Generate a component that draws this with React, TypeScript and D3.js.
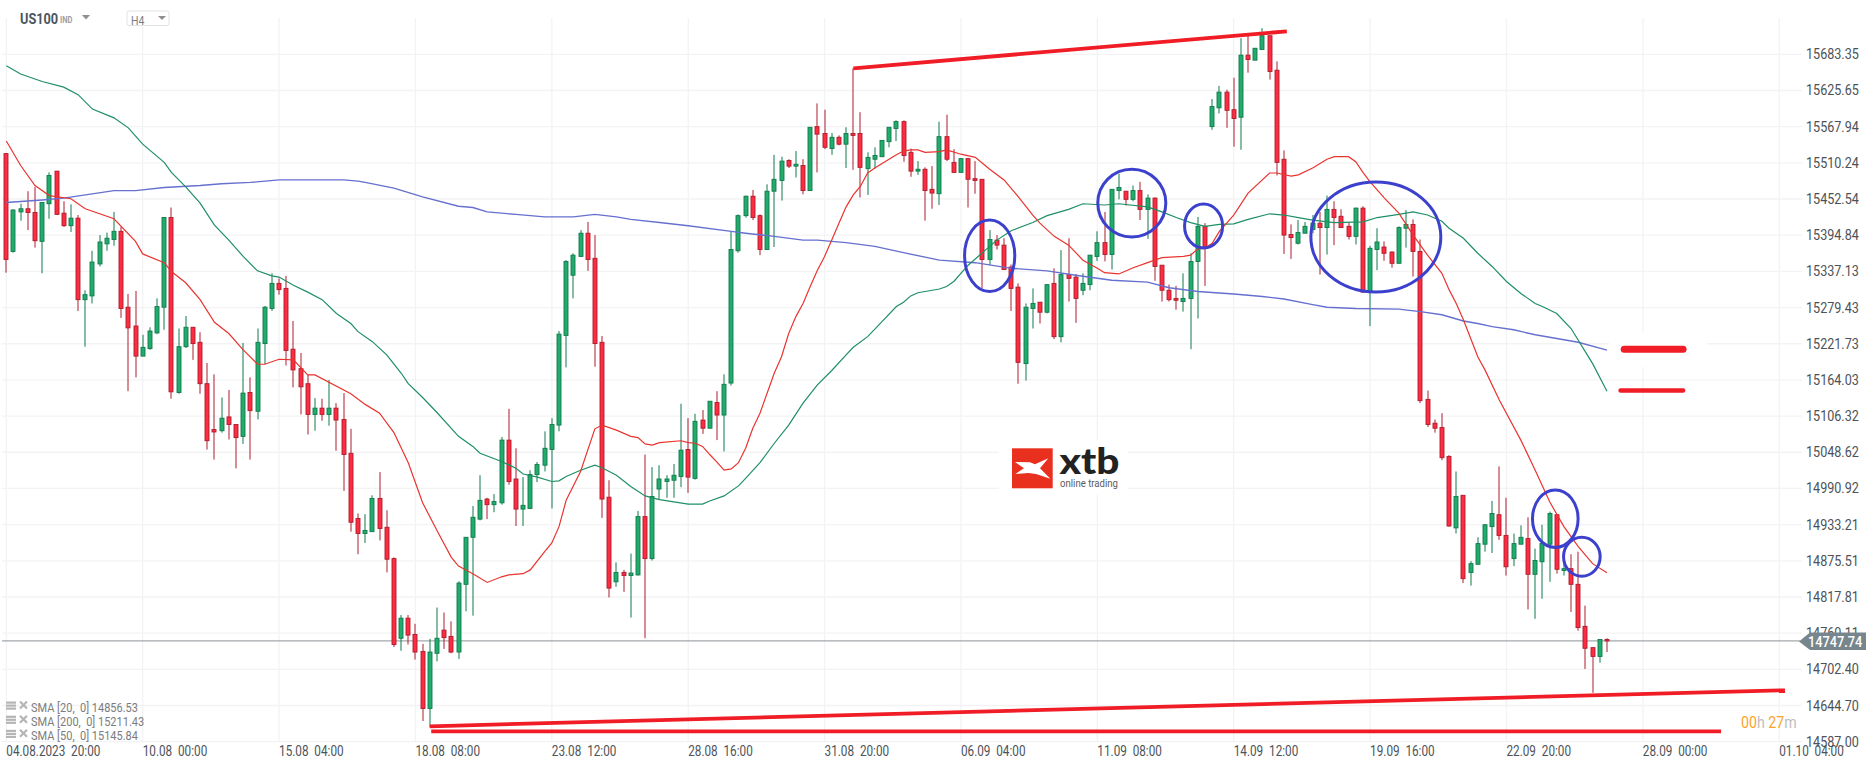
import React from "react";
import * as d3 from "d3";

const FONT = "Roboto, sans-serif";

// candles, one entry per H4 bar
const open = [15525,15369,15432,15437,15431,15385,15445,15497,15430,15410,15422,15292,15298,15349,15381,15388,15401,15280,15250,15202,
15214,15239,15280,15423,15144,15217,15248,15224,15158,15085,15083,15105,15093,15074,15144,15114,15222,15278,15318,15310,
15213,15182,15158,15109,15119,15109,15119,15101,15047,14943,14919,14922,14975,14929,14879,14752,14784,14758,14731,14640,
14728,14765,14755,14730,14838,14913,14942,14974,14965,14968,15068,15006,14958,14959,15013,15028,15053,15092,15235,15331,
15361,15398,15358,15224,14977,14842,14857,14852,14853,14946,14879,14990,15002,15004,15010,15053,15007,15100,15087,15128,
15108,15159,15370,15426,15457,15426,15372,15465,15482,15514,15505,15506,15466,15568,15557,15533,15551,15540,15557,15557,
15501,15516,15520,15544,15565,15576,15527,15497,15500,15468,15461,15552,15511,15495,15517,15485,15484,15356,15387,15379,
15344,15312,15190,15278,15288,15272,15318,15233,15332,15328,15307,15316,15361,15383,15364,15466,15465,15452,15466,15436,
15454,15347,15307,15294,15289,15294,15353,15409,15568,15598,15623,15595,15583,15682,15674,15691,15713,15658,15516,15396,
15382,15398,15404,15414,15407,15436,15425,15409,15393,15438,15305,15372,15376,15368,15350,15406,15412,15369,15133,15095,
15088,15042,14928,14980,14857,14870,14902,14930,14949,14916,14879,14902,14911,14854,14874,14902,14949,14860,14863,14838,
14771,14737,14723,14750];
const high = [15525,15436,15445,15465,15472,15447,15495,15497,15449,15444,15427,15307,15370,15395,15399,15432,15408,15301,15306,15236,
15248,15294,15424,15439,15246,15266,15248,15240,15191,15173,15136,15148,15093,15223,15168,15246,15282,15334,15326,15330,
15258,15207,15173,15135,15134,15164,15127,15143,15086,14951,14950,14980,15017,14956,14881,14789,14789,14775,14743,14751,
14801,14793,14779,14843,14913,14963,15012,14976,14982,15073,15118,15055,15009,15020,15033,15082,15103,15242,15355,15366,
15403,15416,15395,15234,15004,14873,14861,14887,14955,15045,15025,15028,15012,15030,15126,15103,15110,15116,15130,15146,
15173,15400,15428,15458,15467,15428,15476,15523,15520,15516,15529,15516,15567,15605,15595,15558,15554,15567,15661,15591,
15527,15535,15546,15567,15578,15578,15533,15513,15503,15505,15576,15587,15532,15517,15517,15513,15484,15403,15395,15390,
15348,15318,15286,15310,15288,15316,15342,15371,15390,15333,15334,15363,15401,15432,15468,15493,15465,15474,15480,15460,
15455,15347,15316,15314,15334,15366,15424,15414,15612,15633,15627,15646,15709,15714,15693,15725,15713,15672,15530,15412,
15419,15416,15427,15432,15458,15449,15436,15415,15439,15441,15378,15406,15385,15369,15409,15435,15420,15388,15147,15101,
15111,15044,15018,14980,14875,14913,14934,14971,15026,14976,14919,14932,14945,14895,14933,14954,14949,14879,14886,14890,
14804,14737,14750,14752];
const low = [15335,15367,15418,15403,15375,15334,15421,15428,15408,15400,15274,15217,15286,15345,15370,15378,15263,15146,15168,15202,
15212,15237,15244,15134,15142,15215,15196,15142,15053,15037,15080,15069,15023,15062,15037,15101,15189,15274,15300,15187,
15152,15109,15077,15083,15099,15091,15051,14987,14922,14886,14904,14922,14908,14857,14738,14732,14742,14718,14620,14610,
14715,14735,14728,14719,14795,14788,14940,14942,14953,14965,14997,14931,14931,14959,15001,15018,14959,15082,15184,15294,
15361,15338,15185,14944,14817,14834,14826,14785,14852,14752,14876,14973,14976,14976,14993,14984,15005,15078,15087,15068,
15050,15155,15367,15423,15419,15363,15372,15376,15450,15502,15487,15460,15466,15495,15532,15523,15538,15502,15499,15455,
15459,15501,15520,15535,15545,15512,15488,15491,15418,15437,15443,15513,15495,15495,15439,15461,15310,15347,15372,15340,
15274,15158,15163,15246,15254,15270,15229,15224,15289,15255,15299,15307,15354,15353,15340,15452,15442,15449,15419,15389,
15322,15289,15289,15276,15273,15213,15262,15314,15563,15589,15566,15536,15531,15654,15674,15691,15643,15490,15365,15357,
15380,15398,15398,15332,15364,15379,15407,15388,15380,15304,15250,15339,15354,15343,15350,15375,15329,15127,15089,15080,
15036,14930,14919,14840,14836,14870,14890,14888,14909,14852,14867,14902,14798,14783,14815,14842,14855,14852,14794,14764,
14703,14665,14713,14730];
const close = [15356,15435,15437,15431,15386,15447,15490,15428,15410,15422,15292,15300,15352,15384,15390,15401,15278,15247,15202,15216,
15242,15281,15423,15145,15217,15248,15222,15158,15067,15081,15103,15093,15072,15143,15115,15224,15280,15318,15308,15211,
15180,15153,15109,15119,15109,15119,15100,15045,14937,14919,14924,14975,14927,14878,14742,14784,14757,14730,14640,14730,
14752,14753,14730,14840,14913,14945,14972,14965,14970,15068,15002,14958,14964,15013,15029,15055,15093,15237,15353,15363,
15398,15356,15222,14974,14832,14857,14852,14856,14946,14879,14978,15006,15006,15012,15052,15009,15098,15087,15130,15108,
15157,15372,15426,15457,15423,15372,15465,15484,15513,15505,15508,15466,15567,15556,15535,15551,15540,15557,15554,15503,
15519,15522,15546,15567,15576,15522,15497,15500,15466,15462,15552,15516,15495,15517,15484,15482,15356,15388,15379,15340,
15310,15192,15280,15286,15272,15316,15233,15332,15326,15294,15318,15363,15383,15364,15468,15471,15452,15466,15436,15454,
15345,15307,15292,15291,15294,15353,15409,15376,15600,15623,15594,15581,15682,15675,15693,15713,15656,15511,15395,15391,
15399,15409,15414,15407,15436,15423,15407,15393,15438,15304,15374,15384,15366,15350,15407,15412,15369,15131,15093,15087,
15040,14931,14978,14847,14871,14903,14933,14951,14916,14866,14903,14913,14854,14876,14903,14951,14862,14863,14838,14769,
14736,14723,14750,14747.74];

// moving averages at these bars
const sma20Bars = [0,2,4,6,9,11,15,18,19,22,23,25,27,29,31,33,35,36,38,40,42,43,48,50,52,54,56,58,60,62,63,65,67,69,70,72,73,75,76,77,78,80,82,83,85,87,88,89,90,91,94,95,96,97,98,99,100,101,102,103,104,105,107,108,109,110,111,112,113,114,115,116,117,118,119,120,121,124,125,126,127,128,130,131,133,135,137,139,141,143,144,146,148,150,152,153,155,157,159,161,164,165,166,167,168,169,171,173,176,177,179,180,182,184,185,187,188,189,190,192,194,196,198,200,201,202,203,205,206,208,211,213,215,217,219,221,223];
const sma20Values = [15545,15506,15474,15458,15453,15437,15421,15385,15365,15351,15337,15319,15292,15256,15238,15212,15189,15189,15197,15196,15172,15172,15142,15125,15111,15080,15032,14968,14924,14881,14867,14855,14841,14850,14853,14855,14861,14890,14904,14930,14972,15018,15086,15092,15084,15074,15072,15062,15060,15064,15067,15064,15063,15058,15045,15033,15020,15022,15032,15055,15087,15111,15175,15201,15238,15265,15286,15313,15339,15361,15387,15414,15440,15459,15473,15494,15502,15523,15529,15531,15531,15527,15528,15531,15524,15519,15500,15483,15456,15427,15414,15393,15379,15355,15342,15335,15333,15343,15351,15359,15361,15363,15373,15374,15382,15401,15427,15462,15494,15494,15489,15491,15502,15516,15520,15520,15512,15495,15480,15454,15430,15395,15363,15334,15308,15286,15260,15201,15180,15132,15068,15020,14970,14930,14898,14871,14856.53];

const sma50Bars = [0,2,5,8,10,12,15,17,19,22,23,25,27,29,31,33,35,37,38,40,42,44,46,48,49,51,53,55,56,58,60,63,65,66,69,71,72,74,76,77,78,80,82,83,85,87,89,91,95,97,98,100,102,103,105,107,109,111,113,115,117,118,120,122,124,125,126,127,130,131,132,134,136,138,140,143,145,148,150,153,155,159,161,163,165,167,169,171,173,176,178,180,182,185,189,191,194,196,198,200,201,203,205,207,209,211,213,214,216,218,221,223];
const sma50Values = [15665,15652,15640,15631,15619,15596,15582,15566,15540,15511,15495,15472,15446,15411,15387,15361,15338,15330,15328,15315,15304,15292,15270,15254,15241,15225,15204,15175,15158,15136,15112,15074,15058,15047,15034,15023,15014,15009,15002,15003,15010,15020,15028,15024,15012,14994,14979,14973,14966,14966,14971,14979,14995,15007,15032,15063,15092,15127,15156,15179,15204,15216,15233,15257,15281,15288,15298,15303,15309,15313,15321,15347,15367,15387,15402,15415,15426,15436,15445,15443,15445,15440,15432,15423,15415,15409,15412,15413,15420,15429,15427,15423,15419,15415,15416,15423,15428,15432,15427,15417,15406,15390,15366,15345,15321,15302,15286,15281,15270,15246,15190,15145.84];

const sma200Bars = [0,5,8,15,18,22,27,30,34,38,47,49,50,54,58,63,65,67,71,75,79,82,85,87,91,95,101,103,107,111,113,117,121,125,130,135,140,145,149,154,159,162,166,171,175,178,182,184,188,194,197,200,203,205,207,210,213,219,223];
const sma200Values = [15447,15451,15454,15466,15466,15471,15474,15477,15479,15483,15483,15481,15479,15470,15456,15441,15439,15432,15428,15424,15424,15428,15424,15420,15415,15410,15401,15398,15393,15387,15387,15383,15377,15367,15355,15351,15342,15338,15331,15323,15320,15311,15305,15301,15297,15293,15284,15280,15278,15277,15273,15268,15258,15254,15249,15244,15236,15224,15211.43];

// axis labels
const priceTicks = ["15683.35","15625.65","15567.94","15510.24","15452.54","15394.84","15337.13","15279.43","15221.73","15164.03","15106.32","15048.62","14990.92","14933.21","14875.51","14817.81","14760.11","14702.40","14644.70","14587.00"];
const dateTicks = ["04.08.2023  20:00","10.08  00:00","15.08  04:00","18.08  08:00","23.08  12:00","28.08  16:00","31.08  20:00","06.09  04:00","11.09  08:00","14.09  12:00","19.09  16:00","22.09  20:00","28.09  00:00","01.10  04:00"];
const tickEveryBars = 19;
const lastPrice = 14747.74;
const legendRows = ["SMA [20,  0] 14856.53","SMA [200,  0] 15211.43","SMA [50,  0] 15145.84"];

// hand-drawn annotations: [bar, price, bar, price]
const thinRedLines = [
  [118, 15661, 178.4, 15720],
  [59, 14611.6, 247.8, 14669],
  [59.2, 14603.5, 238.9, 14603.5],
];
const thickRedLines = [
  [225.4, 15213, 233.6, 15213, 7],
  [224.9, 15147, 233.6, 15147, 4.5],
];
// [centre bar, centre price, radius in bars, radius in price]
const blueCircles = [
  [137, 15362, 3.5, 57],
  [156.8, 15446, 4.74, 54],
  [166.8, 15409.5, 2.65, 35],
  [190.8, 15392, 9.05, 87.7],
  [215.8, 14942.7, 3.18, 45.8],
  [219.5, 14882, 2.55, 31],
];

const x = d3.scaleLinear().domain([0, tickEveryBars]).range([6.3, 142.68]);
const y = d3.scaleLinear().domain([14587, 15683.35]).range([741.7, 54.3]);

const GREEN = "#22ab6c", GREEN_D = "#0f7a4b", RED = "#fe2c40", RED_D = "#ad1c2d";
const GRID = "#f3f3f5";
const STRETCH = 0.84;

function Txt({ px, py, children, sx = STRETCH, ...rest }: any) {
  return (
    <text transform={`translate(${px},${py}) scale(${sx},1)`} fontFamily={FONT} xmlSpace="preserve" style={{ whiteSpace: "pre" }} {...rest}>
      {children}
    </text>
  );
}

function smaPath(bars: number[], values: number[]) {
  const line = d3.line<number>().x((b) => x(b)).y((_, k) => y(values[k]));
  return line(bars) as string;
}

export default function App() {
  const gridRight = 1802;
  const tickXs = dateTicks.map((_, k) => x(k * tickEveryBars));
  const priceYs = priceTicks.map((t) => y(+t));
  const lastY = y(lastPrice);
  const legendYs = [707.5, 721.7, 735.8];
  return (
    <svg width={1866} height={767} viewBox="0 0 1866 767" style={{ position: "fixed", left: 0, top: 0, display: "block", background: "#fff" }}>
      <rect width={1866} height={767} fill="#fff" />
      {/* grid */}
      {priceYs.map((py, k) => (
        <line key={k} x1={2} x2={gridRight} y1={py} y2={py} stroke={GRID} strokeWidth={1.3} />
      ))}
      {tickXs.map((tx, k) => (
        <line key={k} x1={tx} x2={tx} y1={18} y2={742} stroke={GRID} strokeWidth={1.3} />
      ))}
      {/* white patches behind the logo and the level marks */}
      <rect x={999} y={440} width={129} height={55} fill="#fff" />
      <rect x={1609} y={333} width={98} height={34} fill="#fff" />
      {/* logo */}
      <g>
        <rect x={1012} y={448.3} width={40.7} height={40} fill="#e9301f" />
        <g transform="translate(980,400) scale(0.3333)">
          <path d="M105,186 L150,187 L165,193 L205,175 L180,205 L211,236 L168,222 L145,219 L106,222 L132,205 Z" fill="#fff" />
        </g>
        <text x={1059.5} y={474} fontFamily="Lato, sans-serif" fontWeight={900} fontSize={36} fill="#222" textLength={60} lengthAdjust="spacingAndGlyphs">xtb</text>
        <text x={1060} y={486.5} fontFamily={FONT} fontSize={10.5} fill="#5d5d5d" textLength={58} lengthAdjust="spacingAndGlyphs">online trading</text>
      </g>
      {/* last price line */}
      <line x1={2} x2={1800} y1={lastY} y2={lastY} stroke="#8b9296" strokeWidth={1} />
      {/* candles */}
      {open.map((o, i) => {
        const c = close[i];
        const up = c >= o;
        const cx = Math.round(x(i));
        const top = y(Math.max(o, c));
        const bot = y(Math.min(o, c));
        return (
          <g key={i}>
            <line x1={cx} x2={cx} y1={y(high[i])} y2={y(low[i])} stroke={up ? GREEN_D : RED_D} strokeWidth={1} />
            <rect x={cx - 2} y={top} width={4} height={Math.max(bot - top, 1)} fill={up ? GREEN : RED} stroke={up ? GREEN_D : RED_D} strokeWidth={0.9} />
          </g>
        );
      })}
      {/* moving averages */}
      <path d={smaPath(sma200Bars, sma200Values)} fill="none" stroke="#6670cf" strokeWidth={1.4} />
      <path d={smaPath(sma50Bars, sma50Values)} fill="none" stroke="#1f8f65" strokeWidth={1.2} />
      <path d={smaPath(sma20Bars, sma20Values)} fill="none" stroke="#e9342f" strokeWidth={1.2} />
      {/* annotations */}
      {thinRedLines.map((l, k) => (
        <line key={k} x1={x(l[0])} y1={y(l[1])} x2={x(l[2])} y2={y(l[3])} stroke="#f01c26" strokeWidth={3.8} />
      ))}
      {thickRedLines.map((l, k) => (
        <line key={k} x1={x(l[0])} y1={y(l[1])} x2={x(l[2])} y2={y(l[3])} stroke="#f01c26" strokeWidth={l[4]} strokeLinecap="round" />
      ))}
      {blueCircles.map((c, k) => (
        <ellipse key={k} cx={x(c[0])} cy={y(c[1])} rx={x(c[2]) - x(0)} ry={y(15000 - c[3]) - y(15000)} fill="none" stroke="#3c41cd" strokeWidth={3} />
      ))}
      {/* price axis */}
      {priceTicks.map((t, k) => (
        <Txt key={k} px={1806} py={priceYs[k] + 5} sx={0.9} fontSize={14} fill="#4d5258">{t}</Txt>
      ))}
      <path d={`M1799,${lastY + 0.5} L1810,632.5 L1866,632.5 L1866,650 L1810,650 Z`} fill="#77868c" />
      <Txt px={1808} py={646.5} sx={0.88} fontSize={14.5} fontWeight={500} fill="#fff">14747.74</Txt>
      {/* time axis */}
      {dateTicks.map((t, k) => (
        <Txt key={k} px={tickXs[k]} py={755.5} fontSize={14} fill="#4d5258">{t}</Txt>
      ))}
      {/* countdown */}
      <Txt px={1741} py={728} sx={0.86} fontSize={16.5} fill="#f9a32e">00<tspan fill="#bdbdbd">h</tspan> 27<tspan fill="#bdbdbd">m</tspan></Txt>
      {/* legend */}
      {legendRows.map((t, k) => (
        <g key={k}>
          {[0, 3, 6].map((d) => (
            <rect key={d} x={6} y={legendYs[k] - 6 + d} width={10} height={2.2} fill="#b5b5b5" />
          ))}
          <path d={`M20,${legendYs[k] - 6} L27,${legendYs[k] + 1} M27,${legendYs[k] - 6} L20,${legendYs[k] + 1}`} stroke="#b5b5b5" strokeWidth={2.2} />
          <Txt px={31} py={legendYs[k] + 4} sx={0.88} fontSize={12.5} fill="#7c7c7c">{t}</Txt>
        </g>
      ))}
      {/* header */}
      <Txt px={20} py={24} sx={0.88} fontSize={14.5} fontWeight={700} fill="#4a5560">US100</Txt>
      <Txt px={60} py={23} fontSize={9} fontWeight={700} fill="#9a9fa5">IND</Txt>
      <path d="M82,15 L90,15 L86,19.5 Z" fill="#8f8f8f" />
      <rect x={127} y={11} width={42} height={14.5} rx={2} fill="#fff" stroke="#e2e2e2" strokeWidth={1} />
      <Txt px={131} py={25} fontSize={12.5} fill="#777e85">H4</Txt>
      <path d="M158,16 L166,16 L162,20 Z" fill="#8f8f8f" />
    </svg>
  );
}
